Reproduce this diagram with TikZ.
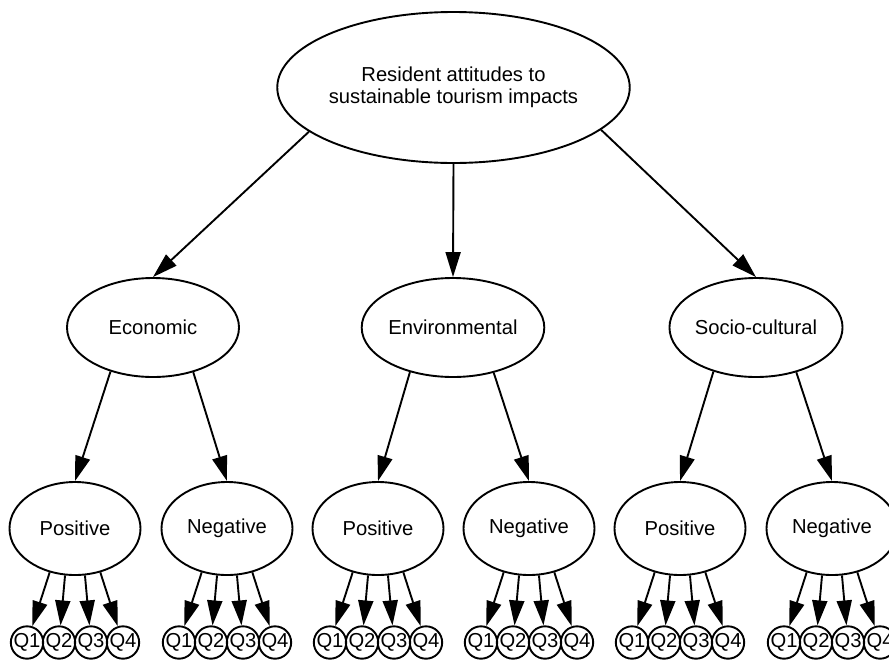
\documentclass[tikz,border=0pt]{standalone}
\usepackage{fontspec}
\setmainfont{Liberation Sans}
\usetikzlibrary{shapes.geometric,arrows.meta}
\begin{document}
\begin{tikzpicture}[x=1pt,y=-1pt,
  lvl/.style={draw, ellipse, line width=1.9pt, inner sep=0pt, font=\fontsize{20.2}{21.5}\selectfont, align=center},
  big/.style={lvl, minimum width=340pt, minimum height=151pt},
  mid/.style={lvl, minimum width=172pt, minimum height=99pt},
  low/.style={lvl, minimum width=131pt, minimum height=93pt},
  qn/.style={draw, circle, line width=1.9pt, inner sep=0pt, minimum size=30pt, font=\fontsize{20.2}{21.5}\selectfont},
  arr/.style={-{Triangle[length=25pt,width=15pt]}, line width=1.9pt}]
\useasboundingbox (0,0) rectangle (889,659);
\clip (0,0) rectangle (889,659);
\node[big] (top) at (453.5,87.5) {Resident attitudes to\\sustainable tourism impacts};
\node[mid] (eco) at (153,327.5) {Economic};
\node[mid] (env) at (453,327.5) {Environmental};
\node[mid] (soc) at (756,327.5) {Socio-cultural};
\draw[arr] (top.-163.6) -- (eco.north);
\draw[arr] (top.south) -- (env.north);
\draw[arr] (top.-16.7) -- (soc.north);
\foreach \g/\pxx/\nxx in {eco/75/227, env/378/529, soc/680/832} {
  \node[low] (\g pos) at (\pxx,528.5) {Positive};
  \node[low] (\g neg) at (\nxx,528.5) {Negative};
  \draw[arr] (\g.-134) -- (\g pos.north);
  \draw[arr] (\g.-48) -- (\g neg.north);
  \foreach \s/\cx in {pos/\pxx, neg/\nxx} {
    \foreach \i/\o/\a in {1/-48/-120, 2/-16/-102, 3/16/-78, 4/48/-60} {
      \node[qn] (\g\s q\i) at (\cx+\o, 642.5) {Q\i};
      \draw[arr] (\g\s.\a) -- (\g\s q\i);
    }
  }
}
\end{tikzpicture}
\end{document}
